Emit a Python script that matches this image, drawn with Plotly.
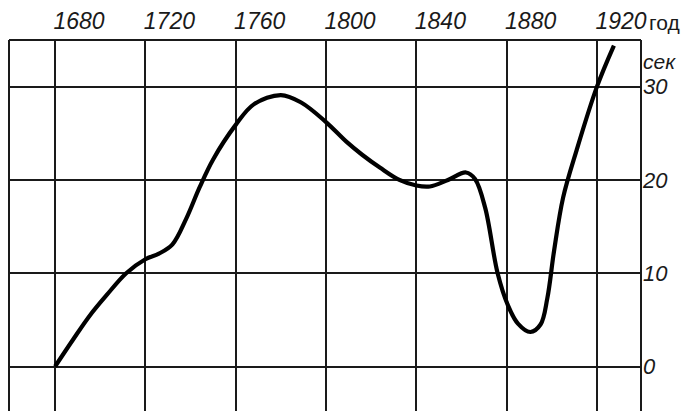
import plotly.graph_objects as go

years = [1680, 1688, 1695.5, 1703, 1711.5, 1720, 1726, 1732, 1738, 1744, 1750,
         1760, 1768, 1780, 1789, 1800, 1809, 1816, 1824, 1832.5, 1840, 1846, 1854, 1862,
         1866, 1870.5, 1876, 1880.5, 1885, 1890.5, 1895, 1898, 1901, 1905, 1911,
         1920, 1927.5]
seconds = [0, 2.9, 5.5, 7.7, 10, 11.5, 12.1, 13.1, 15.8, 19.2, 22.2,
           25.9, 28.1, 29.1, 28.3, 26.2, 24.1, 22.7, 21.3, 20, 19.4, 19.3, 20, 20.8,
           20.1, 17.0, 10, 6.6, 4.6, 3.7, 4.5, 7.3, 12.4, 18.1, 23.2,
           30, 34.4]

x_ticks = [1680, 1720, 1760, 1800, 1840, 1880, 1920]
y_ticks = [0, 10, 20, 30]

FONT = "Liberation Sans Narrow, Liberation Sans, sans-serif"
INK = "#1a1a1a"

fig = go.Figure()
fig.add_trace(go.Scatter(
    x=years, y=seconds, mode="lines",
    line=dict(color="black", width=4.2, shape="spline", smoothing=1.0),
    hoverinfo="skip", showlegend=False,
))

fig.update_layout(
    width=682, height=411,
    margin=dict(l=9, r=41, t=40, b=0, autoexpand=False),
    paper_bgcolor="white", plot_bgcolor="white",
    font=dict(family=FONT, color=INK),
)

fig.update_xaxes(
    range=[1659.6, 1939.5], side="top", automargin=False,
    tickvals=x_ticks, ticktext=[f"<i>{v}</i>" for v in x_ticks],
    tickfont=dict(size=23, family=FONT, color=INK),
    ticks="", ticklabelshift=24, ticklabelstandoff=5,
    showgrid=True, gridcolor=INK, gridwidth=1.8,
    showline=False, zeroline=False,
)
fig.update_yaxes(
    range=[-4.77, 35], side="right", automargin=False,
    tickvals=y_ticks, ticktext=[f"<i>{v}</i>" for v in y_ticks],
    tickfont=dict(size=22, family=FONT, color=INK),
    ticks="", ticklabelstandoff=1,
    showgrid=True, gridcolor=INK, gridwidth=1.8,
    showline=False, zeroline=False,
)

# frame: top, left and right edges of the plot area
for x0, y0, x1, y1 in [(0, 1, 1, 1), (0, 0, 0, 1), (1, 0, 1, 1)]:
    fig.add_shape(type="line", xref="paper", yref="paper",
                  x0=x0, y0=y0, x1=x1, y1=y1,
                  line=dict(color=INK, width=2), layer="below")

fig.add_annotation(text="год", xref="paper", yref="paper",
                   x=1.0, y=1.0, xanchor="left", yanchor="bottom",
                   xshift=7, yshift=5, borderpad=0,
                   showarrow=False, font=dict(size=21, family=FONT, color=INK))
fig.add_annotation(text="<i>сек</i>", xref="paper", y=32.7, yref="y",
                   x=1.0, xanchor="left", yanchor="middle", xshift=1, borderpad=0,
                   showarrow=False, font=dict(size=21, family=FONT, color=INK))

fig.write_html(
    "out.html",
    config={"displayModeBar": False},
    post_script="document.body.style.margin='0';document.body.style.overflow='hidden';",
)
